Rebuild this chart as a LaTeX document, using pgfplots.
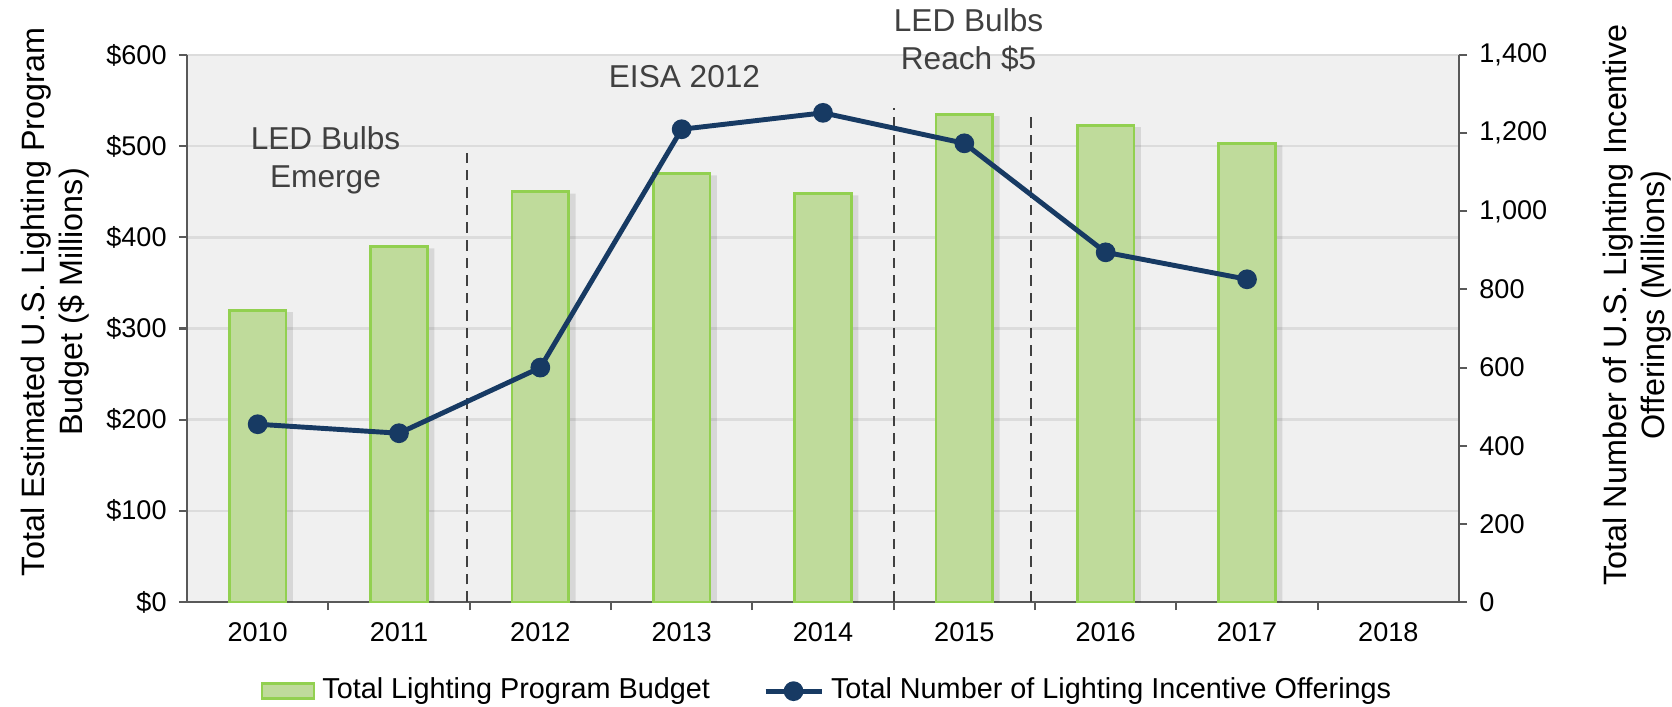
\documentclass[border=0pt]{standalone}
\usepackage{pgfplots}
\pgfplotsset{compat=1.18}
\usepackage{fontspec}
\setmainfont{Liberation Sans}

\definecolor{barfill}{HTML}{BFDB9B}
\definecolor{baredge}{HTML}{92D050}
\definecolor{navy}{HTML}{173A63}
\definecolor{plotbg}{HTML}{F0F0F0}
\definecolor{gridc}{HTML}{DCDCDC}
\definecolor{axisc}{HTML}{595959}
\definecolor{notec}{HTML}{404040}

\pgfplotsset{
  twin/.style={
    scale only axis, width=12.72cm, height=5.47cm,
    at={(0,0)}, anchor=south west,
    xmin=-0.5, xmax=8.5,
    tick align=outside,
    major tick length=0.8mm, minor tick length=0.8mm,
    tick style={axisc, line width=0.6pt},
    axis line style={axisc, line width=0.8pt},
    ticklabel style={font=\fontsize{7.7}{9}\selectfont},
    /pgf/number format/assume math mode=true,
  },
  lineleg/.style={legend image code/.code={%
    \draw[##1, mark repeat=2, mark phase=2] plot coordinates {(0mm,0mm) (2.8mm,0mm) (5.6mm,0mm)};}},
  boxleg/.style={legend image code/.code={%
    \draw[fill=barfill, draw=baredge, line width=0.8pt] (0mm,-0.75mm) rectangle (5.2mm,0.75mm);}},
}

\begin{document}
\begin{tikzpicture}
\useasboundingbox (-1.87cm,-1.04cm) rectangle (14.85cm,6.02cm);

% bars on the left axis
\begin{axis}[twin,
  ymin=0, ymax=600, ytick={0,100,...,600},
  yticklabels={\$0,\$100,\$200,\$300,\$400,\$500,\$600},
  axis y line*=left, axis x line*=bottom,
  xtick={0,...,8},
  xticklabels={2010,2011,2012,2013,2014,2015,2016,2017,2018},
  minor xtick={0.5,1.5,...,7.5},
  every major x tick/.append style={draw=none},
  ymajorgrids, grid style={gridc, line width=0.7pt},
  axis background/.style={fill=plotbg},
  clip=false,
]
\addplot[ybar, bar width=0.40, bar shift=0.7mm, fill=black, fill opacity=0.10, draw=none]
  coordinates {(0,318) (1,388) (2,448) (3,468) (4,446) (5,533) (6,521) (7,501)};
\addplot[ybar, bar width=0.40, fill=barfill, draw=baredge, line width=0.8pt]
  coordinates {(0,320) (1,390) (2,450) (3,470) (4,448) (5,535) (6,523) (7,503)};

% event markers
\addplot[notec, line width=0.5pt, dash pattern=on 3pt off 2pt] coordinates {(1.48,0) (1.48,492)};
\addplot[notec, line width=0.5pt, dash pattern=on 3pt off 2pt] coordinates {(4.5,0) (4.5,542)};
\addplot[notec, line width=0.5pt, dash pattern=on 3pt off 2pt] coordinates {(5.47,0) (5.47,535)};

\node[align=center, font=\fontsize{9}{10.8}\selectfont, text=notec] at (axis cs:0.48,484) {LED Bulbs\\Emerge};
\node[align=center, font=\fontsize{9}{10.8}\selectfont, text=notec] at (axis cs:3.02,576) {EISA 2012};
\node[align=center, font=\fontsize{9}{10.8}\selectfont, text=notec] at (axis cs:5.03,616) {LED Bulbs\\Reach \$5};
\end{axis}

% line on the right axis
\begin{axis}[twin,
  ymin=0, ymax=1400, ytick={0,200,...,1400},
  axis y line*=right, axis x line=none,
  yticklabel style={/pgf/number format/.cd, 1000 sep={,}},
  legend style={at={(0.505,-0.163)}, anchor=center, draw=none, fill=none,
    legend columns=2, font=\fontsize{8.2}{10}\selectfont,
    /tikz/every even column/.append style={column sep=4.6mm}},
  legend cell align=left,
]
\addlegendimage{boxleg}
\addlegendentry{Total Lighting Program Budget}
\addplot[navy, line width=1.4pt, mark=*, mark size=2.1pt, lineleg]
  coordinates {(0,455) (1,432) (2,600) (3,1210) (4,1252) (5,1174) (6,895) (7,826)};
\addlegendentry{Total Number of Lighting Incentive Offerings}
\end{axis}

\node[rotate=90, align=center, font=\fontsize{9.2}{10.8}\selectfont] at (-1.32cm,3.0cm)
  {Total Estimated U.S. Lighting Program\\Budget (\$ Millions)};
\node[rotate=90, align=center, font=\fontsize{9.2}{10.8}\selectfont] at (14.50cm,2.97cm)
  {Total Number of U.S. Lighting Incentive\\Offerings (Millions)};
\end{tikzpicture}
\end{document}
